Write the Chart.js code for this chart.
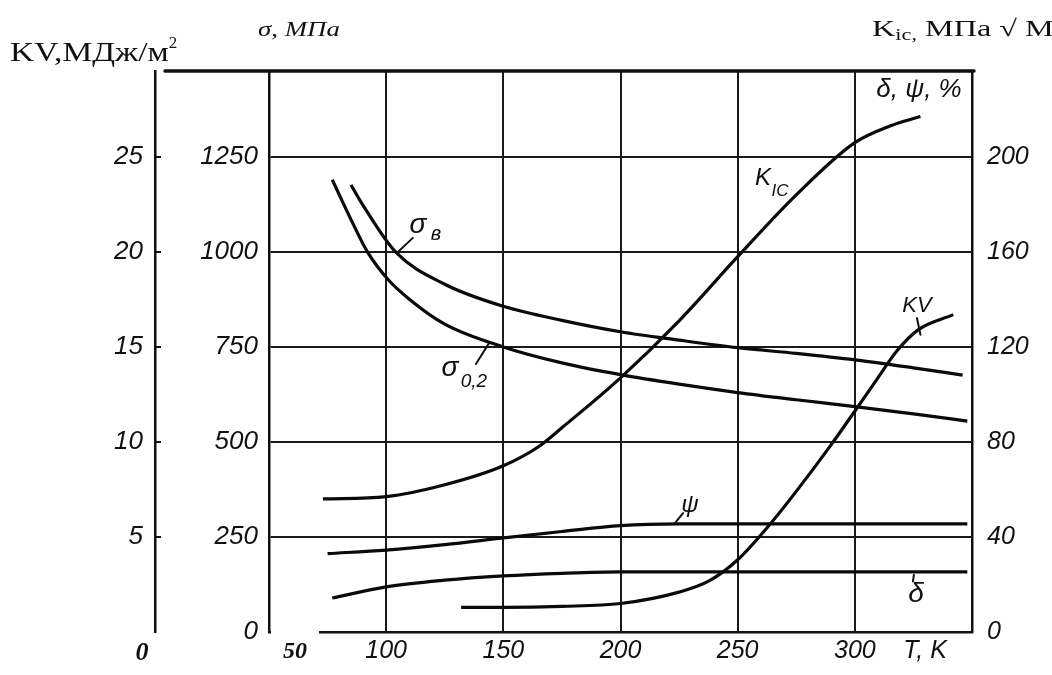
<!DOCTYPE html>
<html><head><meta charset="utf-8">
<script src="https://cdn.jsdelivr.net/npm/chart.js@4.4.1/dist/chart.umd.min.js"></script>
<style>html,body{margin:0;padding:0;background:#fff}#wrap{width:1052px;height:675px;position:relative}</style>
</head><body><div id="wrap"><canvas id="c" width="1052" height="675"></canvas></div>
<script>
// ---- data (T in K) ----
const sigmaB_T    = [85, 90, 104, 125, 150, 175, 200, 225, 250, 275, 300, 325, 346];
const sigmaB_MPa  = [1176, 1124, 1000, 915, 857, 820, 790, 768, 748, 733, 716, 695, 676];
const sigma02_T   = [77, 85, 92, 101, 110, 125, 150, 175, 200, 225, 250, 275, 300, 325, 348];
const sigma02_MPa = [1190, 1085, 1000, 926, 875, 810, 750, 708, 677, 652, 630, 611, 593, 574, 555];
const kic_T       = [73, 100, 125, 150, 165, 175, 200, 225, 250, 275, 300, 315, 328];
const kic_val     = [56, 57, 62, 70, 78, 86, 107, 131, 158, 184, 206, 213, 217];
const psi_T       = [75, 100, 125, 150, 175, 200, 225, 250, 300, 348];
const psi_pct     = [33, 34.5, 36.8, 39.6, 42.3, 44.8, 45.5, 45.5, 45.5, 45.5];
const delta_T     = [77, 100, 125, 150, 175, 200, 250, 300, 348];
const delta_pct   = [14.3, 19, 21.8, 23.6, 24.7, 25.3, 25.3, 25.3, 25.3];
const kv_T        = [132, 150, 175, 200, 225, 238, 250, 264, 275, 289, 301, 310, 318, 327, 342];
const kv_val      = [1.3, 1.3, 1.35, 1.5, 2.1, 2.7, 3.8, 5.7, 7.4, 9.7, 11.8, 13.4, 14.8, 15.9, 16.7];

// ---- tick labels ----
const xTicks      = [100, 150, 200, 250, 300];
const xFirstLabel = '50';
const xAxisName   = 'T, K';
const sigmaTicks  = [0, 250, 500, 750, 1000, 1250];
const rightTicks  = [0, 40, 80, 120, 160, 200];
const kvTicks     = [5, 10, 15, 20, 25];
const kvZeroLabel = '0';

// axis ranges (sigma axis is the master; others are proportional)
const T_MIN = 50, T_MAX = 350, SIGMA_MAX = 1476;
const RIGHT_MAX = SIGMA_MAX * 0.16, KV_MAX = SIGMA_MAX / 50;

const pts = (xs, ys) => xs.map((x, i) => ({x, y: ys[i]}));
const lineStyle = {borderColor: '#0a0a0a', borderWidth: 3.2, pointRadius: 0, fill: false,
  cubicInterpolationMode: 'monotone', tension: 0.4};

const INK = '#111';
const handFont = (size) => ({family: '"Liberation Sans", Arial, sans-serif', style: 'italic', size, weight: 'normal'});
const clear = 'rgba(0,0,0,0)';
const plain = (v) => String(v);

function txt(ctx, s, x, y, font, align, base, sx) {
  ctx.save();
  ctx.font = font; ctx.fillStyle = INK; ctx.textAlign = align || 'left'; ctx.textBaseline = base || 'alphabetic';
  ctx.translate(x, y); ctx.scale(sx || 1, 1); ctx.fillText(s, 0, 0);
  const w = ctx.measureText(s).width * (sx || 1);
  ctx.restore();
  return w;
}
function seg(ctx, x1, y1, x2, y2, w) {
  ctx.save(); ctx.strokeStyle = INK; ctx.lineWidth = w || 2; ctx.lineCap = 'round';
  ctx.beginPath(); ctx.moveTo(x1, y1); ctx.lineTo(x2, y2); ctx.stroke(); ctx.restore();
}

const HAND = '"Liberation Sans", Arial, sans-serif';
const SERIF = '"Liberation Serif", "Times New Roman", serif';

const decor = {
  id: 'decor',
  afterDraw(chart) {
    const {ctx, chartArea: a, scales} = chart;
    const x = scales.x, s = scales.ySigma, kv = scales.yKV;
    const P = (t, v) => [x.getPixelForValue(t), s.getPixelForValue(v)];
    // white gap in the bottom frame next to T = 50
    ctx.save(); ctx.fillStyle = '#fff'; ctx.fillRect(a.left + 2, a.bottom - 3, 48, 7); ctx.restore();
    // thick top frame line, starting just right of the KV axis
    seg(ctx, kv.right + 10, a.top, a.right + 2, a.top, 3.5);

    // bold pasted labels
    txt(ctx, xFirstLabel, x.getPixelForValue(T_MIN) + 26, a.bottom + 20, 'italic bold 24px ' + SERIF, 'center', 'middle');
    txt(ctx, kvZeroLabel, kv.right - 13, kv.getPixelForValue(0) + 21, 'italic bold 26px ' + SERIF, 'center', 'middle');

    // titles
    let w = txt(ctx, 'KV,МДж/м', 10, 61, '27px ' + SERIF, 'left', 'alphabetic', 1.24);
    txt(ctx, '2', 10 + w, 48, '17px ' + SERIF, 'left', 'alphabetic');
    txt(ctx, 'σ, МПа', 258, 36, 'italic 22px ' + SERIF, 'left', 'alphabetic', 1.22);
    w = txt(ctx, 'K', 872, 36, '23px ' + SERIF, 'left', 'alphabetic', 1.4);
    let w2 = txt(ctx, 'ic,', 872 + w, 40, '16px ' + SERIF, 'left', 'alphabetic', 1.4);
    txt(ctx, ' МПа √ М', 872 + w + w2, 36, '23px ' + SERIF, 'left', 'alphabetic', 1.4);

    // in-plot curve labels
    const F = (n) => 'italic ' + n + 'px ' + HAND;
    let p;
    p = P(113.6, 1071); txt(ctx, 'σ', p[0], p[1], F(28), 'center', 'middle');
    txt(ctx, 'в', p[0] + 18, p[1] + 10, F(20), 'center', 'middle');
    seg(ctx, ...P(105, 1000), ...P(111.4, 1037), 2);

    p = P(127.2, 694.6); txt(ctx, 'σ', p[0], p[1], F(28), 'center', 'middle');
    txt(ctx, '0,2', p[0] + 24, p[1] + 14, F(19), 'center', 'middle');
    seg(ctx, ...P(138.3, 705), ...P(143.9, 760), 2);

    p = P(260.8, 1194); txt(ctx, 'K', p[0], p[1], F(24), 'center', 'middle');
    txt(ctx, 'IC', p[0] + 17, p[1] + 13, F(17), 'center', 'middle');

    p = P(326.5, 857.7); txt(ctx, 'KV', p[0], p[1], F(22), 'center', 'middle');
    seg(ctx, ...P(326.5, 826), ...P(328.0, 782), 2);

    p = P(229.7, 334); txt(ctx, 'ψ', p[0], p[1], F(24), 'center', 'middle');
    seg(ctx, ...P(223.3, 287), ...P(226.7, 313), 2);

    p = P(326.1, 100); txt(ctx, 'δ', p[0], p[1], F(28), 'center', 'middle');
    seg(ctx, ...P(324.8, 133), ...P(325.2, 150), 2);

    p = P(327.4, 1426); txt(ctx, 'δ, ψ, %', p[0], p[1], F(26), 'center', 'middle');
  }
};

new Chart(document.getElementById('c'), {
  type: 'line',
  data: {
    datasets: [
      {label: 'σв', data: pts(sigmaB_T, sigmaB_MPa), yAxisID: 'ySigma', ...lineStyle},
      {label: 'σ0,2', data: pts(sigma02_T, sigma02_MPa), yAxisID: 'ySigma', ...lineStyle},
      {label: 'KIC', data: pts(kic_T, kic_val), yAxisID: 'yRight', ...lineStyle},
      {label: 'ψ', data: pts(psi_T, psi_pct), yAxisID: 'yRight', ...lineStyle},
      {label: 'δ', data: pts(delta_T, delta_pct), yAxisID: 'yRight', ...lineStyle},
      {label: 'KV', data: pts(kv_T, kv_val), yAxisID: 'yKV', ...lineStyle}
    ]
  },
  options: {
    responsive: false, animation: false, devicePixelRatio: 1,
    layout: {padding: {top: 71, left: 0, right: 0, bottom: 0}},
    plugins: {legend: {display: false}, tooltip: {enabled: false}, title: {display: false}},
    scales: {
      x: {
        type: 'linear', position: 'bottom', min: T_MIN, max: T_MAX,
        afterBuildTicks: (sc) => { sc.ticks = xTicks.concat([330]).map(v => ({value: v})); },
        afterFit: (sc) => { sc.height = 43; },
        grid: {color: (c) => (c.tick && c.tick.value === 330) ? clear : '#1a1a1a', lineWidth: 2, drawTicks: false},
        border: {color: INK, width: 2.5},
        ticks: {padding: 4, color: INK, maxRotation: 0, autoSkip: false, font: handFont(25),
          callback: (v) => v === 330 ? xAxisName : String(v)}
      },
      ySigma: {
        type: 'linear', position: 'left', weight: 0, min: 0, max: SIGMA_MAX,
        afterBuildTicks: (sc) => { sc.ticks = sigmaTicks.map(v => ({value: v})); },
        afterFit: (sc) => { sc.width = 114; },
        grid: {color: (c) => (c.tick && c.tick.value === 0) ? clear : '#1a1a1a', lineWidth: 2, drawTicks: false},
        border: {color: INK, width: 2.5},
        ticks: {padding: 11, color: INK, font: handFont(26), callback: plain}
      },
      yKV: {
        type: 'linear', position: 'left', weight: 1, min: 0, max: KV_MAX,
        afterBuildTicks: (sc) => { sc.ticks = kvTicks.map(v => ({value: v})); },
        afterFit: (sc) => { sc.width = 155; },
        grid: {drawOnChartArea: false, drawTicks: true, tickLength: -6, color: INK, lineWidth: 2},
        border: {color: INK, width: 2.5},
        ticks: {padding: 18, color: INK, font: handFont(26), callback: plain}
      },
      yRight: {
        type: 'linear', position: 'right', min: 0, max: RIGHT_MAX,
        afterBuildTicks: (sc) => { sc.ticks = rightTicks.map(v => ({value: v})); },
        afterFit: (sc) => { sc.width = 80; },
        grid: {drawOnChartArea: false, drawTicks: false},
        border: {color: INK, width: 2.5},
        ticks: {padding: 15, color: INK, font: handFont(25), callback: plain}
      }
    }
  },
  plugins: [decor]
});
</script>
</body></html>
